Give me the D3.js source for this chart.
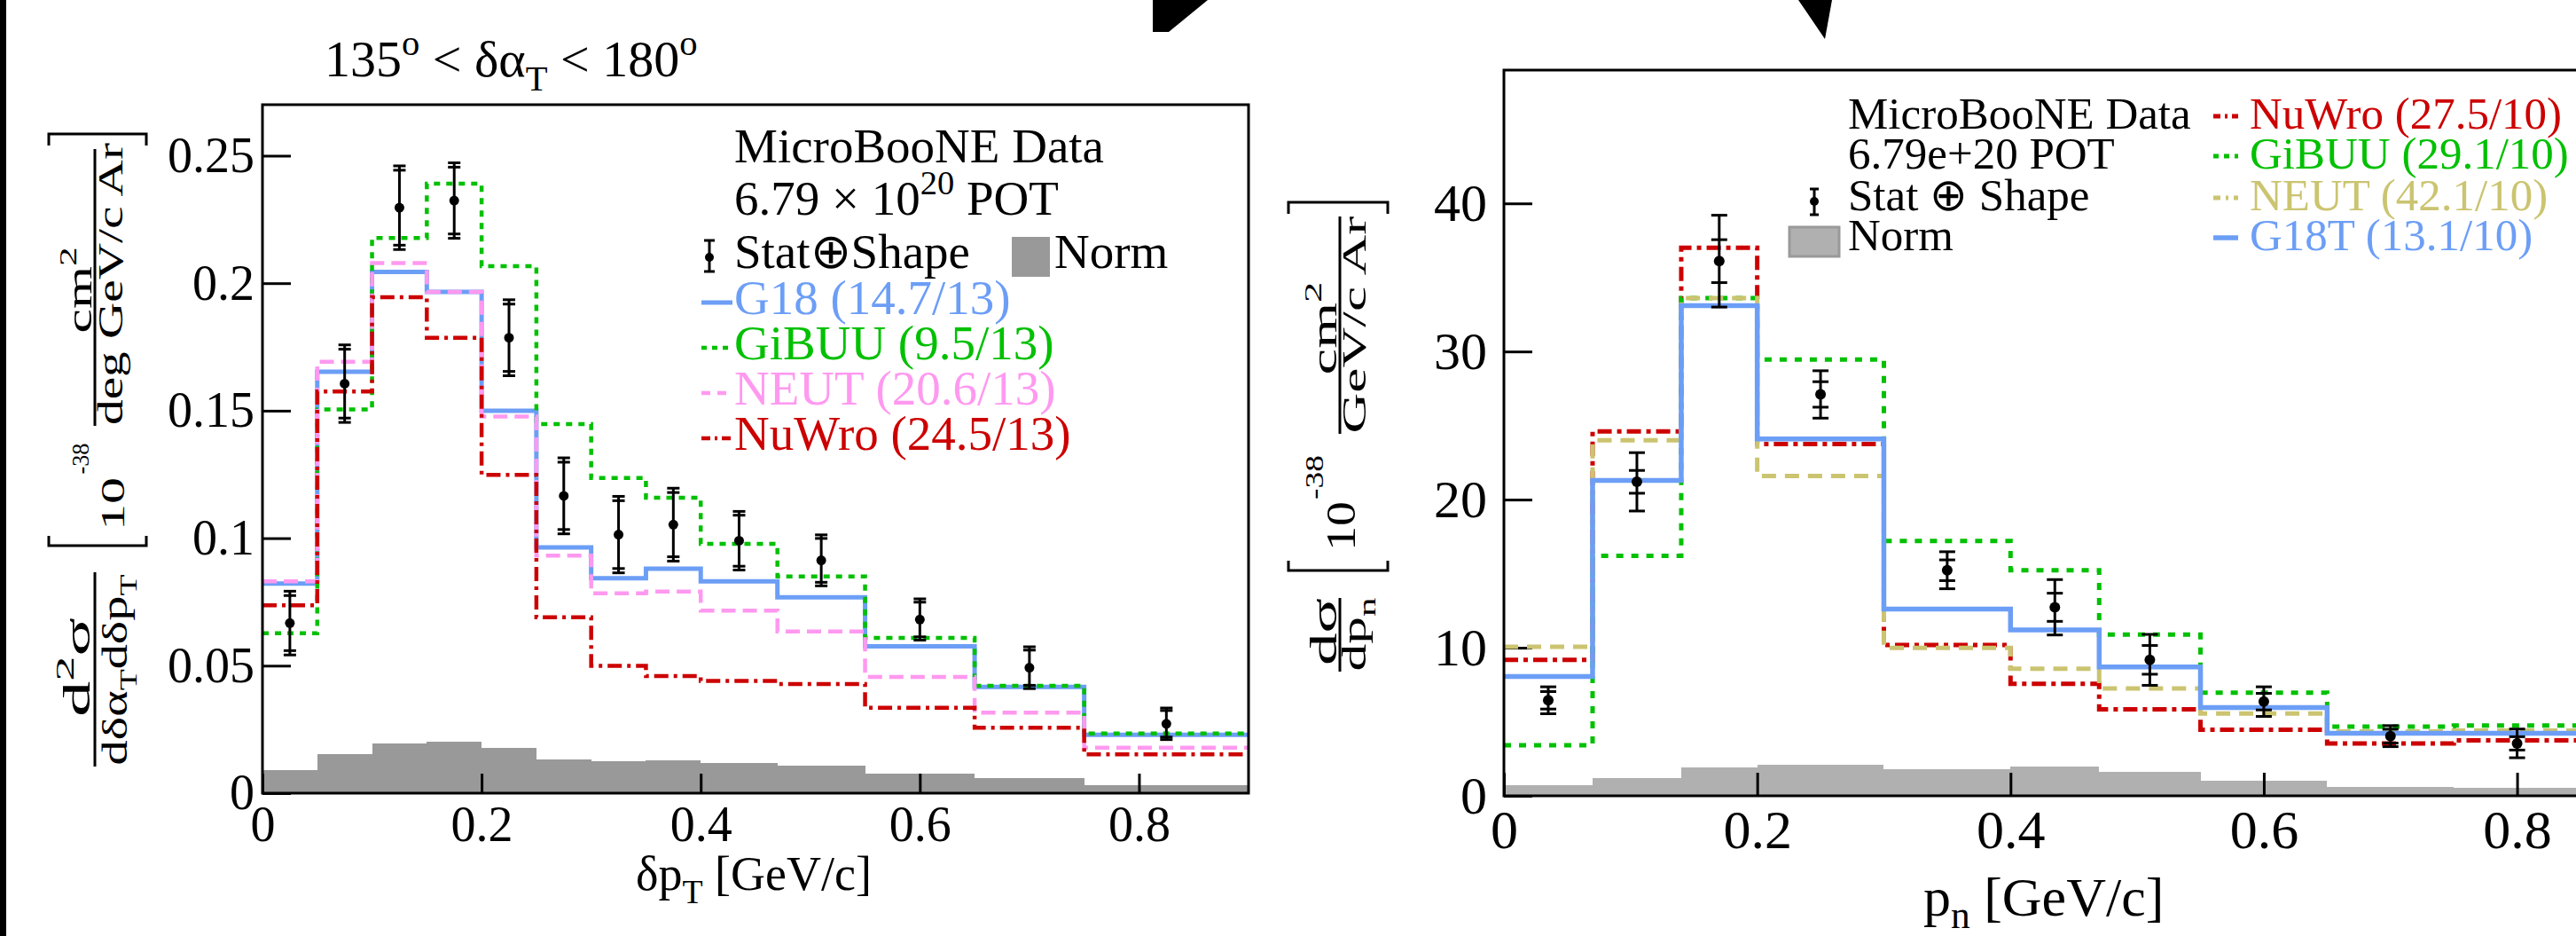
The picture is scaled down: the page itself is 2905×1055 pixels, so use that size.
<!DOCTYPE html>
<html><head><meta charset="utf-8">
<script src="https://cdn.jsdelivr.net/npm/d3@7"></script>
<style>
html,body{margin:0;padding:0;background:#fff;}
svg{display:block;}
text{font-family:"Liberation Serif","Times New Roman",serif;}
</style></head><body>
<script>
// ---------------- LEFT PANEL DATA (delta pT, 135 < dalphaT < 180) ----------------
const leftEdges = [0,0.05,0.1,0.15,0.2,0.25,0.3,0.35,0.4,0.47,0.55,0.65,0.75,0.9];
const leftDataX = [0.025,0.075,0.125,0.175,0.225,0.275,0.325,0.375,0.435,0.51,0.6,0.7,0.825];
const leftData    = [0.0667,0.1606,0.2296,0.2324,0.1786,0.1166,0.1014,0.1053,0.0990,0.0913,0.0681,0.0492,0.0272];
const leftTotErr  = [0.0125,0.0152,0.0164,0.0148,0.0149,0.0149,0.0150,0.0143,0.0115,0.0100,0.0081,0.0082,0.0062];
const leftStatErr = [0.0108,0.0135,0.0147,0.0131,0.0132,0.0132,0.0133,0.0126,0.0100,0.0086,0.0068,0.0069,0.0052];
const leftG18   = [0.0822,0.1653,0.2044,0.1966,0.1500,0.0964,0.0843,0.0880,0.0831,0.0768,0.0576,0.0417,0.0229];
const leftGiBUU = [0.0627,0.1505,0.2177,0.2390,0.2067,0.1447,0.1236,0.1159,0.0978,0.0850,0.0609,0.0421,0.0234];
const leftNEUT  = [0.0831,0.1692,0.2079,0.1966,0.1477,0.0932,0.0784,0.0791,0.0716,0.0634,0.0456,0.0316,0.0178];
const leftNuWro = [0.0737,0.1575,0.1945,0.1786,0.1248,0.0690,0.0499,0.0459,0.0440,0.0428,0.0335,0.0257,0.0152];
const leftNorm  = [0.0089,0.0154,0.0194,0.0201,0.0176,0.0131,0.0124,0.0129,0.0119,0.0108,0.0077,0.0059,0.0030];
const leftXTicks = [0,0.2,0.4,0.6,0.8];
const leftXTickLabels = ["0","0.2","0.4","0.6","0.8"];
const leftYTicks = [0,0.05,0.1,0.15,0.2,0.25];
const leftYTickLabels = ["0","0.05","0.1","0.15","0.2","0.25"];
const leftLegend = ["G18 (14.7/13)","GiBUU (9.5/13)","NEUT (20.6/13)","NuWro (24.5/13)"];

// ---------------- RIGHT PANEL DATA (p_n) ----------------
const rightEdges = [0,0.07,0.14,0.2,0.3,0.4,0.47,0.55,0.65,0.75,0.85];
const rightDataX = [0.035,0.105,0.17,0.25,0.35,0.435,0.51,0.6,0.7,0.8];
const rightData    = [6.45,21.2,36.1,27.1,15.23,12.73,9.18,6.36,4.03,3.54];
const rightTotErr  = [0.91,1.97,3.1,1.6,1.25,1.87,1.72,1.0,0.71,0.97];
const rightStatErr = [0.59,0.77,1.45,0.86,0.7,0.95,0.97,0.56,0.47,0.45];
const rightG18T  = [8.06,21.3,33.1,24.1,12.61,11.2,8.7,5.96,4.23,4.23];
const rightGiBUU = [3.42,16.2,33.6,29.45,17.2,15.23,10.88,6.97,4.67,4.75];
const rightNEUT  = [10.07,24.0,33.6,21.6,9.99,8.58,7.25,5.56,4.35,4.4];
const rightNuWro = [9.18,24.6,37.0,23.75,10.19,7.57,5.84,4.47,3.54,3.75];
const rightNorm  = [0.73,1.19,1.93,2.1,1.82,1.97,1.61,1.04,0.6,0.56];
const rightXTicks = [0,0.2,0.4,0.6,0.8];
const rightXTickLabels = ["0","0.2","0.4","0.6","0.8"];
const rightYTicks = [0,10,20,30,40];
const rightYTickLabels = ["0","10","20","30","40"];
const rightLegend = ["NuWro (27.5/10)","GiBUU (29.1/10)","NEUT (42.1/10)","G18T (13.1/10)"];

// ---------------- styles ----------------
const C = {blue:"#6c9ef6", green:"#00c000", pink:"#ff99f0", red:"#cc0000", khaki:"#cbc470",
           grayL:"#999999", grayR:"#b0b0b0"};

const W=2905, H=1055;
const svg=d3.select("body").append("svg").attr("width",W).attr("height",H);
svg.append("rect").attr("width",W).attr("height",H).attr("fill","#fff");
svg.append("rect").attr("x",0).attr("y",0).attr("width",7).attr("height",H).attr("fill","#000");
svg.append("path").attr("d","M1300,0L1362,0L1318,36L1300,36Z").attr("fill","#000");
svg.append("path").attr("d","M2028,0L2066,0L2058,44Z").attr("fill","#000");

function rich(parent, segs, o){
  const size=o.size;
  const t=parent.append("text").attr("x",o.x||0).attr("y",o.y||0).attr("font-size",size)
    .attr("text-anchor",o.anchor||"start").attr("fill",o.fill||"#000");
  let cur=0;
  segs.forEach(s=>{
    const str=Array.isArray(s)?s[0]:s, type=Array.isArray(s)?s[1]:null;
    const target= type==="sup"? -(o.supShift||0.42)*size : type==="sub"? (o.subShift||0.28)*size : 0;
    const ts=t.append("tspan").text(str).attr("dy",target-cur);
    if(type) ts.attr("font-size",size*0.7);
    cur=target;
  });
  return t;
}
// rotated text, stretched along its length to match the reference
function rot(segs, bx, cy, size, len, extra){
  const g=svg.append("g").attr("transform",`translate(${bx},${cy}) rotate(-90)`);
  const inner=g.append("g");
  const t=rich(inner, segs, Object.assign({x:0,y:0,size:size,anchor:"middle"}, extra||{}));
  const nat=t.node().getComputedTextLength();
  if(nat>0) inner.attr("transform",`scale(${len/nat},1)`);
  return t;
}
function vline(x,y1,y2,w){svg.append("line").attr("x1",x).attr("x2",x).attr("y1",y1).attr("y2",y2).attr("stroke","#000").attr("stroke-width",w||3);}

function stepPath(edges, vals, x, y){
  const pts=vals.map((v,i)=>[edges[i],v]); pts.push([edges[edges.length-1], vals[vals.length-1]]);
  return d3.line().x(d=>x(d[0])).y(d=>y(d[1])).curve(d3.curveStepAfter)(pts);
}

function panel(p){
  const g=svg.append("g");
  g.append("g").selectAll("rect").data(p.norm).join("rect")
    .attr("x",(d,i)=>p.x(p.edges[i])).attr("width",(d,i)=>p.x(p.edges[i+1])-p.x(p.edges[i]))
    .attr("y",d=>p.y(d)).attr("height",d=>p.y(0)-p.y(d)).attr("fill",p.normColor)
    .attr("shape-rendering","crispEdges");
  const ay=g.append("g").attr("transform",`translate(${p.x.range()[0]},0)`)
    .call(d3.axisLeft(p.y).tickValues(p.yTicks).tickFormat((d,i)=>p.yLabels[i]).tickSizeInner(-32).tickSizeOuter(0).tickPadding(p.yPad));
  const ax=g.append("g").attr("transform",`translate(0,${p.y(0)})`)
    .call(d3.axisBottom(p.x).tickValues(p.xTicks).tickFormat((d,i)=>p.xLabels[i]).tickSizeInner(-p.xTickLen).tickSizeOuter(0).tickPadding(p.xPad));
  [ay,ax].forEach(a=>{a.select(".domain").remove();
    a.attr("font-family",null).attr("font-size",null);
    a.selectAll("line").attr("stroke","#000").attr("stroke-width",3);});
  ay.selectAll("text").attr("font-size",p.yFont).attr("fill","#000");
  ax.selectAll("text").attr("font-size",p.xFont).attr("fill","#000");
  p.models.forEach(m=>{
    g.append("path").attr("d",stepPath(p.edges,m.vals,p.x,p.y)).attr("fill","none")
     .attr("stroke",m.color).attr("stroke-width",m.w).attr("stroke-dasharray",m.dash||null);
  });
  const eg=g.append("g").attr("stroke","#000").attr("stroke-width",3);
  p.dataX.forEach((xv,i)=>{
    const cx=p.x(xv), v=p.data[i];
    eg.append("line").attr("x1",cx).attr("x2",cx).attr("y1",p.y(v-p.tot[i])).attr("y2",p.y(v+p.tot[i]));
    [v-p.tot[i],v+p.tot[i],v-p.stat[i],v+p.stat[i]].forEach(e=>{
      eg.append("line").attr("x1",cx-p.cap).attr("x2",cx+p.cap).attr("y1",p.y(e)).attr("y2",p.y(e));
    });
    g.append("circle").attr("cx",cx).attr("cy",p.y(v)).attr("r",p.r).attr("fill","#000");
  });
  g.append("rect").attr("x",p.x.range()[0]).attr("y",p.y.range()[1])
   .attr("width",p.x.range()[1]-p.x.range()[0]).attr("height",p.y(0)-p.y.range()[1])
   .attr("fill","none").attr("stroke","#000").attr("stroke-width",3);
}

// ===== LEFT =====
const xL=d3.scaleLinear().domain([0,0.9]).range([296,1408]);
const yL=d3.scaleLinear().domain([0,0.27]).range([894,118]);
panel({x:xL,y:yL,edges:leftEdges,norm:leftNorm,normColor:C.grayL,
  yTicks:leftYTicks,yLabels:leftYTickLabels,xTicks:leftXTicks,xLabels:leftXTickLabels,
  yPad:9,xPad:14,xTickLen:22,yFont:56,xFont:56,
  models:[{vals:leftG18,color:C.blue,w:5},{vals:leftGiBUU,color:C.green,w:4.5,dash:"7,7"},
          {vals:leftNEUT,color:C.pink,w:4.5,dash:"16,8"},{vals:leftNuWro,color:C.red,w:4.5,dash:"16,6,4,6"}],
  dataX:leftDataX,data:leftData,tot:leftTotErr,stat:leftStatErr,cap:7,r:5.5});

rich(svg,["135",["o","sup"]," < δα",["T","sub"]," < 180",["o","sup"]],{x:366,y:86,size:58});
rich(svg,["δp",["T","sub"]," [GeV/c]"],{x:717,y:1003,size:54});
// y title (rotated)
rot(["d",["2","sup"],"σ"],101,752,42,112);
vline(107,645,864);
rot(["dδα",["T","sub"],"dδp",["T","sub"]],143,755,40,215);
svg.append("path").attr("d","M55,604L55,615L165,615L165,604").attr("fill","none").attr("stroke","#000").attr("stroke-width",3);
rot(["10"],140,568,38,60);
rot(["-38"],100,517,28,35);
rot(["cm",["2","sup"]],103,327,40,97);
vline(107,168,480);
rot(["deg GeV/c Ar"],138,320,40,318);
svg.append("path").attr("d","M55,164L55,151L165,151L165,164").attr("fill","none").attr("stroke","#000").attr("stroke-width",3);

// legend left
const LF=55;
rich(svg,["MicroBooNE Data"],{x:828,y:183,size:LF});
rich(svg,["6.79 × 10",["20","sup"]," POT"],{x:828,y:242,size:LF});
rich(svg,["Stat⊕Shape"],{x:828,y:302,size:LF});
svg.append("line").attr("x1",800).attr("x2",800).attr("y1",271).attr("y2",306).attr("stroke","#000").attr("stroke-width",3);
[271,306].forEach(yy=>svg.append("line").attr("x1",794).attr("x2",806).attr("y1",yy).attr("y2",yy).attr("stroke","#000").attr("stroke-width",3));
svg.append("circle").attr("cx",800).attr("cy",290).attr("r",5).attr("fill","#000");
svg.append("rect").attr("x",1141).attr("y",267).attr("width",43).attr("height",45).attr("fill",C.grayL);
rich(svg,["Norm"],{x:1189,y:302,size:LF});
const lStyles=[{c:C.blue,w:5},{c:C.green,w:4.5,d:"6,6"},{c:C.pink,w:4.5,d:"10,8"},{c:C.red,w:4.5,d:"10,5,3,5"}];
const lBase=[354,405,456,507];
leftLegend.forEach((s,i)=>{
  svg.append("line").attr("x1",791).attr("x2",826).attr("y1",lBase[i]-13).attr("y2",lBase[i]-13)
    .attr("stroke",lStyles[i].c).attr("stroke-width",lStyles[i].w).attr("stroke-dasharray",lStyles[i].d||null);
  rich(svg,[s],{x:828,y:lBase[i],size:LF,fill:lStyles[i].c});
});

// ===== RIGHT =====
const xR=d3.scaleLinear().domain([0,0.85]).range([1696,2910]);
const yR=d3.scaleLinear().domain([0,49]).range([897,79]);
panel({x:xR,y:yR,edges:rightEdges,norm:rightNorm,normColor:C.grayR,
  yTicks:rightYTicks,yLabels:rightYTickLabels,xTicks:rightXTicks,xLabels:rightXTickLabels,
  yPad:19,xPad:15,xTickLen:26,yFont:60,xFont:62,
  models:[{vals:rightNuWro,color:C.red,w:5,dash:"16,6,5,6"},{vals:rightGiBUU,color:C.green,w:5,dash:"8,9"},
          {vals:rightNEUT,color:C.khaki,w:5,dash:"16,10"},{vals:rightG18T,color:C.blue,w:5.5}],
  dataX:rightDataX,data:rightData,tot:rightTotErr,stat:rightStatErr,cap:9,r:6});

rich(svg,["p",["n","sub"]," [GeV/c]"],{x:2169,y:1032,size:62,subShift:0.22});
rot(["dσ"],1507,712,42,76);
vline(1511,674,757);
rot(["dp",["n","sub"]],1540,715,38,83);
svg.append("path").attr("d","M1453,632L1453,643L1565,643L1565,632").attr("fill","none").attr("stroke","#000").attr("stroke-width",3);
rot(["10"],1528,593,46,56);
rot(["-38"],1492,538,30,50);
rot(["cm",["2","sup"]],1507,370,40,105);
vline(1511,244,489);
rot(["GeV/c Ar"],1540,366,38,245);
svg.append("path").attr("d","M1453,241L1453,228L1565,228L1565,241").attr("fill","none").attr("stroke","#000").attr("stroke-width",3);

// legend right
const RF=51;
rich(svg,["MicroBooNE Data"],{x:2084,y:145,size:RF});
rich(svg,["6.79e+20 POT"],{x:2084,y:190,size:RF});
rich(svg,["Stat ⊕ Shape"],{x:2084,y:237,size:RF});
svg.append("line").attr("x1",2046).attr("x2",2046).attr("y1",213).attr("y2",242).attr("stroke","#000").attr("stroke-width",3);
[213,242].forEach(yy=>svg.append("line").attr("x1",2041).attr("x2",2051).attr("y1",yy).attr("y2",yy).attr("stroke","#000").attr("stroke-width",3));
svg.append("circle").attr("cx",2046).attr("cy",227).attr("r",5).attr("fill","#000");
svg.append("rect").attr("x",2018).attr("y",256).attr("width",56).attr("height",33).attr("fill",C.grayR).attr("stroke","#999").attr("stroke-width",3);
rich(svg,["Norm"],{x:2084,y:282,size:RF});
const rStyles=[{c:C.red,w:5,d:"8,5,3,5"},{c:C.green,w:5,d:"6,6"},{c:C.khaki,w:5,d:"8,6,3,6"},{c:C.blue,w:5.5}];
const rBase=[145,190,237,282];
rightLegend.forEach((s,i)=>{
  svg.append("line").attr("x1",2496).attr("x2",2524).attr("y1",rBase[i]-14).attr("y2",rBase[i]-14)
    .attr("stroke",rStyles[i].c).attr("stroke-width",rStyles[i].w).attr("stroke-dasharray",rStyles[i].d||null);
  rich(svg,[s],{x:2537,y:rBase[i],size:RF,fill:rStyles[i].c});
});
</script>
</body></html>
